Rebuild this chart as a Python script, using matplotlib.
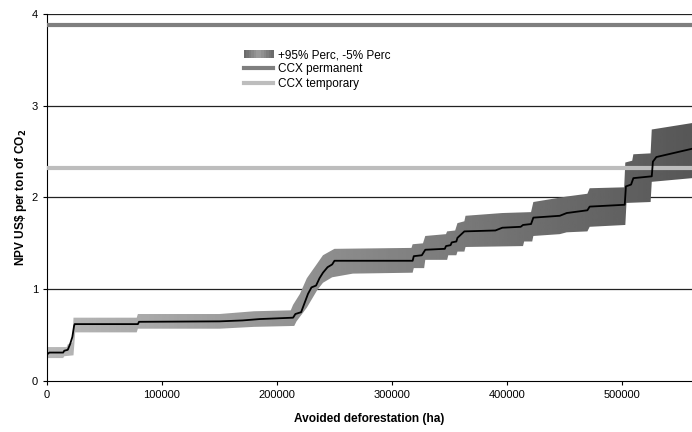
import numpy as np
import matplotlib
matplotlib.use("Agg")
import matplotlib.pyplot as plt
from matplotlib.patches import Polygon, Rectangle
from matplotlib.legend_handler import HandlerBase
from matplotlib.lines import Line2D

plt.rcParams['font.family'] = ['Liberation Sans', 'DejaVu Sans']

# median NPV curve (ha, US$/tCO2)
med_x = [0, 2000, 14000, 15000, 18000, 20000, 22000, 23500, 24000, 79000, 80000,
         150000, 170000, 185000, 214000, 216000, 221000, 224000, 227000, 230000,
         234000, 237000, 240000, 244000, 248000, 250000, 318000, 319000, 326000,
         329000, 346000, 347000, 351000, 352000, 356000, 357000, 363000, 390000,
         396000, 412000, 414000, 421000, 423000, 446000, 452000, 470000, 472000,
         502500, 503500, 508000, 510000, 526000, 527000, 530000, 561000]
med_y = [0.29, 0.31, 0.31, 0.33, 0.34, 0.40, 0.48, 0.60, 0.62, 0.62, 0.645,
         0.65, 0.66, 0.675, 0.69, 0.73, 0.75, 0.85, 0.95, 1.02,
         1.04, 1.12, 1.18, 1.24, 1.27, 1.31, 1.31, 1.36, 1.37,
         1.43, 1.44, 1.47, 1.48, 1.51, 1.52, 1.56, 1.63, 1.64,
         1.67, 1.68, 1.70, 1.71, 1.78, 1.80, 1.83, 1.86, 1.90,
         1.92, 2.12, 2.14, 2.21, 2.23, 2.39, 2.44, 2.53]

# +95% percentile edge
up_x = [0, 17000, 18000, 22000, 23000, 78000, 79000, 150000, 180000, 212000, 214000,
        220000, 226000, 235000, 240000, 250000, 317000, 318000, 327000, 329000,
        347000, 348000, 355000, 357000, 363000, 364000, 396000, 421000, 423000,
        452000, 470000, 472000, 502000, 503000, 509000, 510000, 525000, 526000, 561000]
up_y = [0.37, 0.37, 0.40, 0.42, 0.69, 0.69, 0.73, 0.73, 0.76, 0.77, 0.83,
        0.95, 1.12, 1.28, 1.37, 1.44, 1.45, 1.49, 1.50, 1.58,
        1.60, 1.63, 1.64, 1.72, 1.74, 1.80, 1.83, 1.84, 1.95,
        2.01, 2.04, 2.10, 2.11, 2.38, 2.40, 2.47, 2.48, 2.74, 2.81]

# -5% percentile edge
lo_x = [0, 14000, 15000, 23000, 24500, 78000, 79000, 150000, 180000, 215000, 217000,
        226000, 235000, 240000, 248000, 266000, 318000, 319000, 328000, 329000,
        348000, 349000, 356000, 357000, 363000, 364000, 414000, 415000, 422000,
        423000, 446000, 452000, 470000, 472000, 503000, 504000, 525000, 526000, 561000]
lo_y = [0.25, 0.25, 0.27, 0.28, 0.53, 0.53, 0.57, 0.57, 0.59, 0.60, 0.65,
        0.80, 0.99, 1.07, 1.13, 1.17, 1.18, 1.23, 1.23, 1.32,
        1.32, 1.37, 1.37, 1.41, 1.41, 1.46, 1.47, 1.52, 1.52,
        1.58, 1.60, 1.62, 1.63, 1.68, 1.70, 1.94, 1.95, 2.17, 2.21]

ccx_permanent = 3.88
ccx_temporary = 2.32

fig = plt.figure(figsize=(6.92, 4.32), dpi=100)
ax = fig.add_axes([0.068, 0.118, 0.932, 0.850])
ax.set_xlim(0, 561000)
ax.set_ylim(0, 4)

# gradient band clipped to percentile polygon
verts = list(zip(up_x, up_y)) + list(zip(lo_x[::-1], lo_y[::-1]))
poly = Polygon(verts, closed=True, facecolor='none', edgecolor='none')
ax.add_patch(poly)
grad = np.linspace(0.72, 0.34, 256).reshape(1, -1)
im = ax.imshow(grad, cmap='gray', vmin=0, vmax=1, aspect='auto',
               extent=[0, 561000, 0, 4], zorder=2)
im.set_clip_path(poly)

for yv in [1, 2, 3, 4]:
    ax.axhline(yv, color='#222222', lw=0.9, zorder=1)

ax.axhline(ccx_permanent, color='#7f7f7f', lw=3, zorder=3)
ax.axhline(ccx_temporary, color='#bdbdbd', lw=3, zorder=3)
ax.plot(med_x, med_y, color='black', lw=1.3, zorder=4)

ax.spines['top'].set_visible(False)
ax.spines['right'].set_visible(False)
ax.set_xticks([0, 100000, 200000, 300000, 400000, 500000])
ax.set_yticks([0, 1, 2, 3, 4])
ax.tick_params(labelsize=8, length=3, width=0.8, direction='out')
ax.set_xlabel('Avoided deforestation (ha)', fontsize=8.6, fontweight='bold', labelpad=9)
ax.set_ylabel('NPV US\\$ per ton of CO$_\\mathbf{2}$', fontsize=8.6, fontweight='bold', labelpad=2)


class GradHandler(HandlerBase):
    def create_artists(self, legend, orig_handle, xdescent, ydescent,
                       width, height, fontsize, trans):
        arts = []
        n = 12
        for i in range(n):
            t = abs((i + 0.5) / n - 0.5) * 2
            c = str(0.62 - 0.22 * t)
            r = Rectangle((-xdescent + i * width / n, -ydescent), width / n + 0.3, height,
                          facecolor=c, edgecolor='none', transform=trans)
            arts.append(r)
        return arts


band_handle = Rectangle((0, 0), 1, 1)
h_perm = Line2D([], [], color='#7f7f7f', lw=3)
h_temp = Line2D([], [], color='#bdbdbd', lw=3)
ax.legend([band_handle, h_perm, h_temp],
          ['+95% Perc, -5% Perc', 'CCX permanent', 'CCX temporary'],
          handler_map={Rectangle: GradHandler()},
          loc='upper left', bbox_to_anchor=(0.298, 0.917), frameon=False,
          fontsize=8.5, handlelength=2.5, handletextpad=0.35, labelspacing=0.2,
          borderaxespad=0)

fig.savefig('out.png', dpi=100)
